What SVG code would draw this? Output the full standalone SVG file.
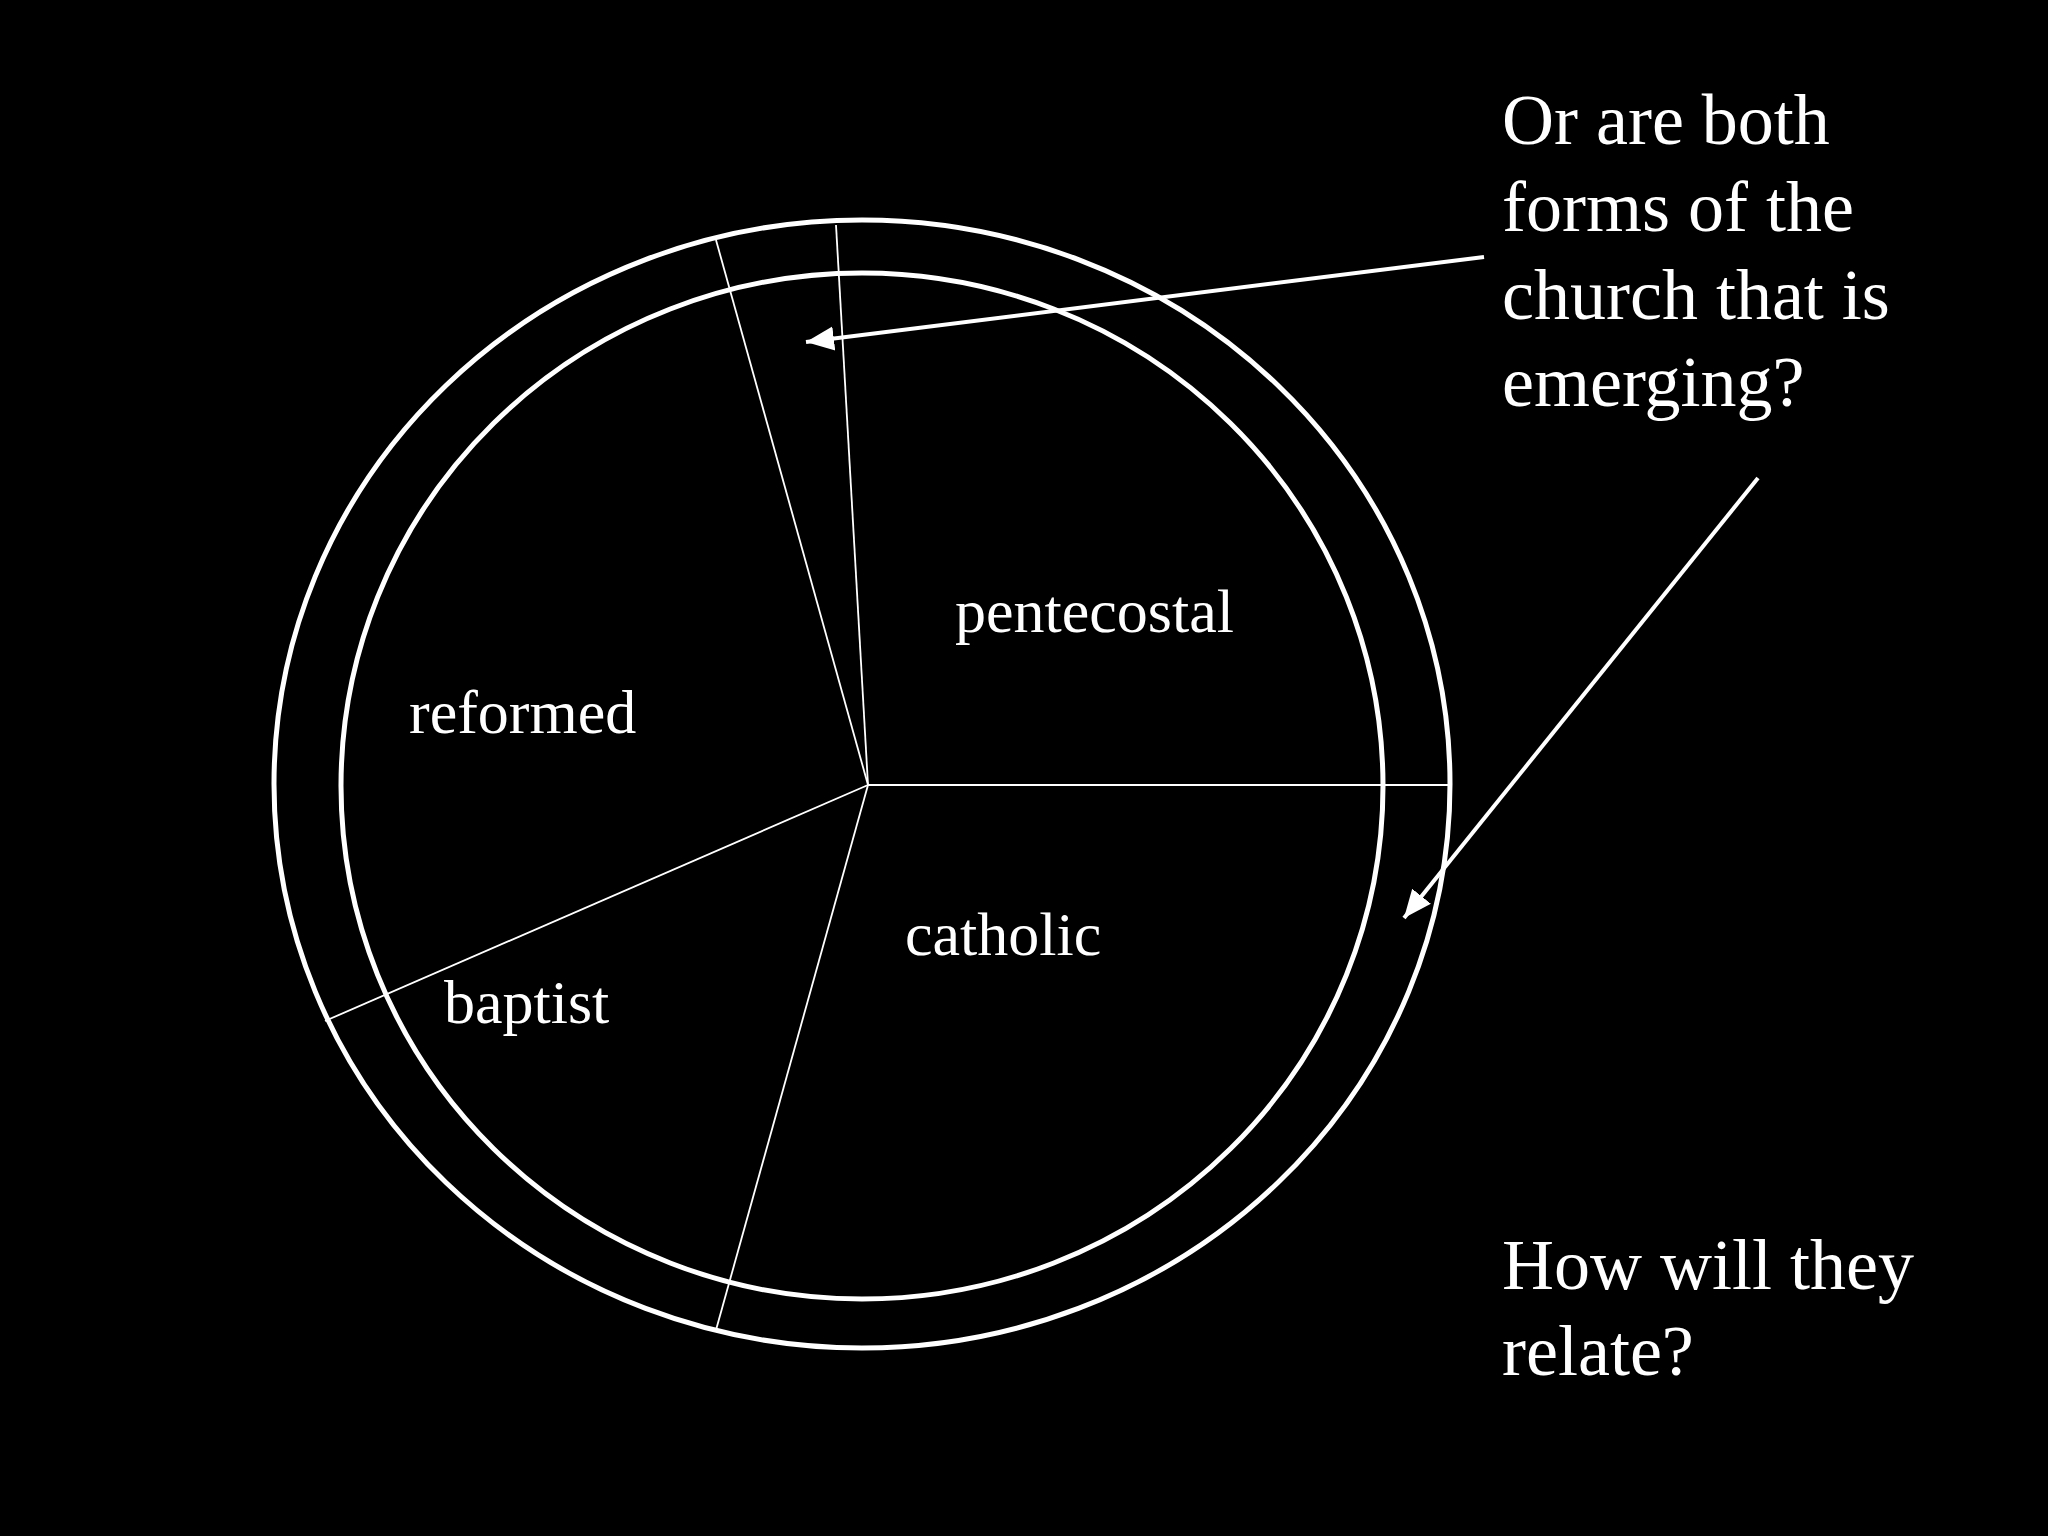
<svg xmlns="http://www.w3.org/2000/svg" width="2048" height="1536" viewBox="0 0 2048 1536">
<defs>
<style>
.t{font-family:"Liberation Serif",serif;fill:#fff}
.big{font-size:72px}
.lab{font-size:62px}
.c{fill:none;stroke:#fff;stroke-width:5}
.s{stroke:#fff;stroke-width:1.8}
.a{stroke:#fff;stroke-width:4}
</style>
<marker id="ah" markerWidth="8" markerHeight="8" refX="7" refY="4" orient="auto" markerUnits="strokeWidth"><path d="M0,1 L7,4 L0,7 z" fill="#fff"/></marker>
</defs>
<rect width="2048" height="1536" fill="#000"/>
<g id="outer"><ellipse class="c" cx="862" cy="784" rx="588" ry="564"/></g>
<g id="inner"><ellipse class="c" cx="862" cy="786" rx="521" ry="513"/></g>
<g id="connectors">
<line class="s" x1="868" y1="785" x2="716" y2="240"/>
<line class="s" x1="868" y1="785" x2="836" y2="225"/>
<line class="s" x1="868" y1="785" x2="1450" y2="785"/>
<line class="s" x1="868" y1="785" x2="716" y2="1330"/>
<line class="s" x1="868" y1="785" x2="325" y2="1021"/>
<line class="a" x1="1484" y1="257" x2="806" y2="342" marker-end="url(#ah)"/>
<line class="a" x1="1758" y1="478" x2="1404" y2="918" marker-end="url(#ah)"/>
</g>
<g id="labels">
<text class="t lab" x="955" y="632">pentecostal</text>
<text class="t lab" x="409" y="733">reformed</text>
<text class="t lab" x="905" y="955">catholic</text>
<text class="t lab" x="444" y="1023">baptist</text>
</g>
<g id="question1">
<text class="t big" x="1502" y="144">Or are both</text>
<text class="t big" x="1502" y="231">forms of the</text>
<text class="t big" x="1502" y="319">church that is</text>
<text class="t big" x="1502" y="406">emerging?</text>
</g>
<g id="question2">
<text class="t big" x="1502" y="1289">How will they</text>
<text class="t big" x="1502" y="1375">relate?</text>
</g>
</svg>
